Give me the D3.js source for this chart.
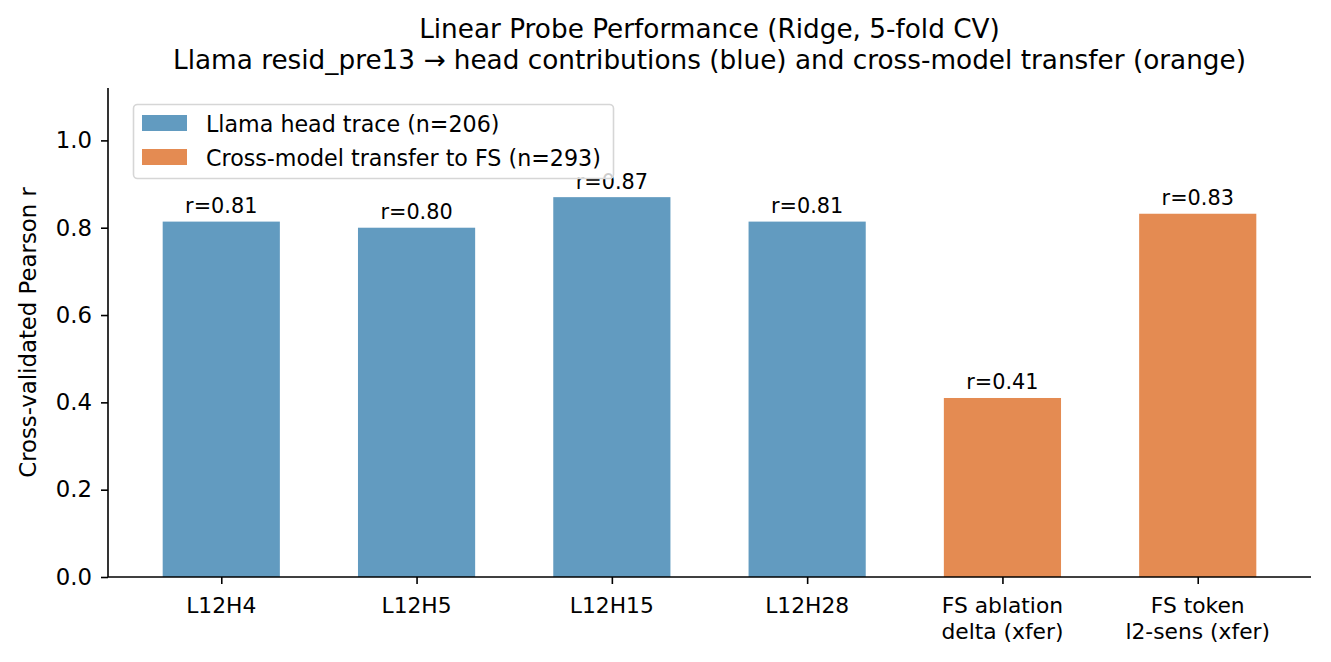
<!DOCTYPE html>
<html>
<head>
<meta charset="utf-8">
<script src="https://d3js.org/d3.v7.min.js"></script>
<style>
    body { margin: 0; background: #fff; }
    svg { font-family: "DejaVu Sans", sans-serif; }
</style>
</head>
<body>
<div id="chart"></div>
<script>
// probe results
var categories = ["L12H4", "L12H5", "L12H15", "L12H28", "FS ablation\ndelta (xfer)", "FS token\nl2-sens (xfer)"];
var values = [0.814, 0.800, 0.870, 0.814, 0.410, 0.832];
var labels = ["r=0.81", "r=0.80", "r=0.87", "r=0.81", "r=0.41", "r=0.83"];
var groups = ["llama", "llama", "llama", "llama", "xfer", "xfer"];
var yTicks = [0.0, 0.2, 0.4, 0.6, 0.8, 1.0];
var legendItems = [
    {key: "llama", label: "Llama head trace (n=206)"},
    {key: "xfer", label: "Cross-model transfer to FS (n=293)"}
];
var titleLines = [
    "Linear Probe Performance (Ridge, 5-fold CV)",
    "Llama resid_pre13 \u2192 head contributions (blue) and cross-model transfer (orange)"
];

var colors = {llama: "#629bc0", xfer: "#e48b52"};

var W = 1331, H = 662;
var m = {left: 108, right: 1311, top: 88, bottom: 577};

var svg = d3.select("#chart")
    .append("svg")
    .attr("width", W)
    .attr("height", H);

var x = d3.scaleLinear().domain([-0.58, 5.58]).range([m.left, m.right]);
var y = d3.scaleLinear().domain([0, 1.12]).range([m.bottom, m.top]);
var barW = x(0.6) - x(0);

// title
svg.append("g")
    .selectAll("text")
    .data(titleLines)
    .enter()
    .append("text")
    .attr("x", (m.left + m.right) / 2)
    .attr("y", function (d, i) { return 38 + i * 31; })
    .attr("text-anchor", "middle")
    .style("font-size", "26.3px")
    .style("fill", "#000")
    .text(function (d) { return d; });

// bars
svg.append("g")
    .selectAll("rect")
    .data(values)
    .enter()
    .append("rect")
    .attr("x", function (d, i) { return x(i) - barW / 2; })
    .attr("y", function (d) { return y(d); })
    .attr("width", barW)
    .attr("height", function (d) { return y(0) - y(d); })
    .style("fill", function (d, i) { return colors[groups[i]]; });

// value labels
svg.append("g")
    .selectAll("text")
    .data(values)
    .enter()
    .append("text")
    .attr("x", function (d, i) { return x(i); })
    .attr("y", function (d) { return y(d) - 8.5; })
    .attr("text-anchor", "middle")
    .style("font-size", "20.8px")
    .text(function (d, i) { return labels[i]; });

// y axis
var yAxis = svg.append("g")
    .attr("transform", "translate(" + m.left + ",0)")
    .call(d3.axisLeft(y)
        .tickValues(yTicks)
        .tickFormat(d3.format(".1f"))
        .tickSize(7)
        .tickPadding(9));
yAxis.select(".domain").attr("d", "M0," + m.top + "V" + m.bottom);
yAxis.selectAll("line").style("stroke-width", 1.6);
yAxis.selectAll("path").style("stroke-width", 1.6);
yAxis.selectAll("text")
    .style("font-size", "22.8px")
    .style("font-family", "DejaVu Sans");

// x axis
var xAxis = svg.append("g")
    .attr("transform", "translate(0," + m.bottom + ")")
    .call(d3.axisBottom(x)
        .tickValues(d3.range(categories.length))
        .tickFormat("")
        .tickSize(7));
xAxis.select(".domain").attr("d", "M" + m.left + ",0H" + m.right);
xAxis.selectAll("line").style("stroke-width", 1.6);
xAxis.selectAll("path").style("stroke-width", 1.6);

var xl = svg.append("g")
    .selectAll("text")
    .data(categories)
    .enter()
    .append("text")
    .attr("text-anchor", "middle")
    .style("font-size", "21.8px");
xl.selectAll("tspan")
    .data(function (d, i) {
        return d.split("\n").map(function (s) { return {s: s, i: i}; });
    })
    .enter()
    .append("tspan")
    .attr("x", function (d) { return x(d.i); })
    .attr("y", function (d, j) { return 613 + j * 26; })
    .text(function (d) { return d.s; });

// y label
svg.append("text")
    .attr("transform", "translate(36," + ((m.top + m.bottom) / 2) + ") rotate(-90)")
    .attr("text-anchor", "middle")
    .style("font-size", "22.8px")
    .text("Cross-validated Pearson r");

// legend
var lg = svg.append("g");
lg.append("rect")
    .attr("x", 133.5)
    .attr("y", 104.5)
    .attr("width", 480)
    .attr("height", 74)
    .attr("rx", 4)
    .style("fill", "#fff")
    .style("fill-opacity", 0.8)
    .style("stroke", "#d6d6d6")
    .style("stroke-width", 1.6);

var li = lg.selectAll("g.item")
    .data(legendItems)
    .enter()
    .append("g")
    .attr("class", "item")
    .attr("transform", function (d, i) { return "translate(0," + (i * 34) + ")"; });
li.append("rect")
    .attr("x", 142)
    .attr("y", 115)
    .attr("width", 45)
    .attr("height", 16)
    .style("fill", function (d) { return colors[d.key]; });
li.append("text")
    .attr("x", 206)
    .attr("y", 131.5)
    .style("font-size", "22.2px")
    .text(function (d) { return d.label; });
</script>
</body>
</html>
